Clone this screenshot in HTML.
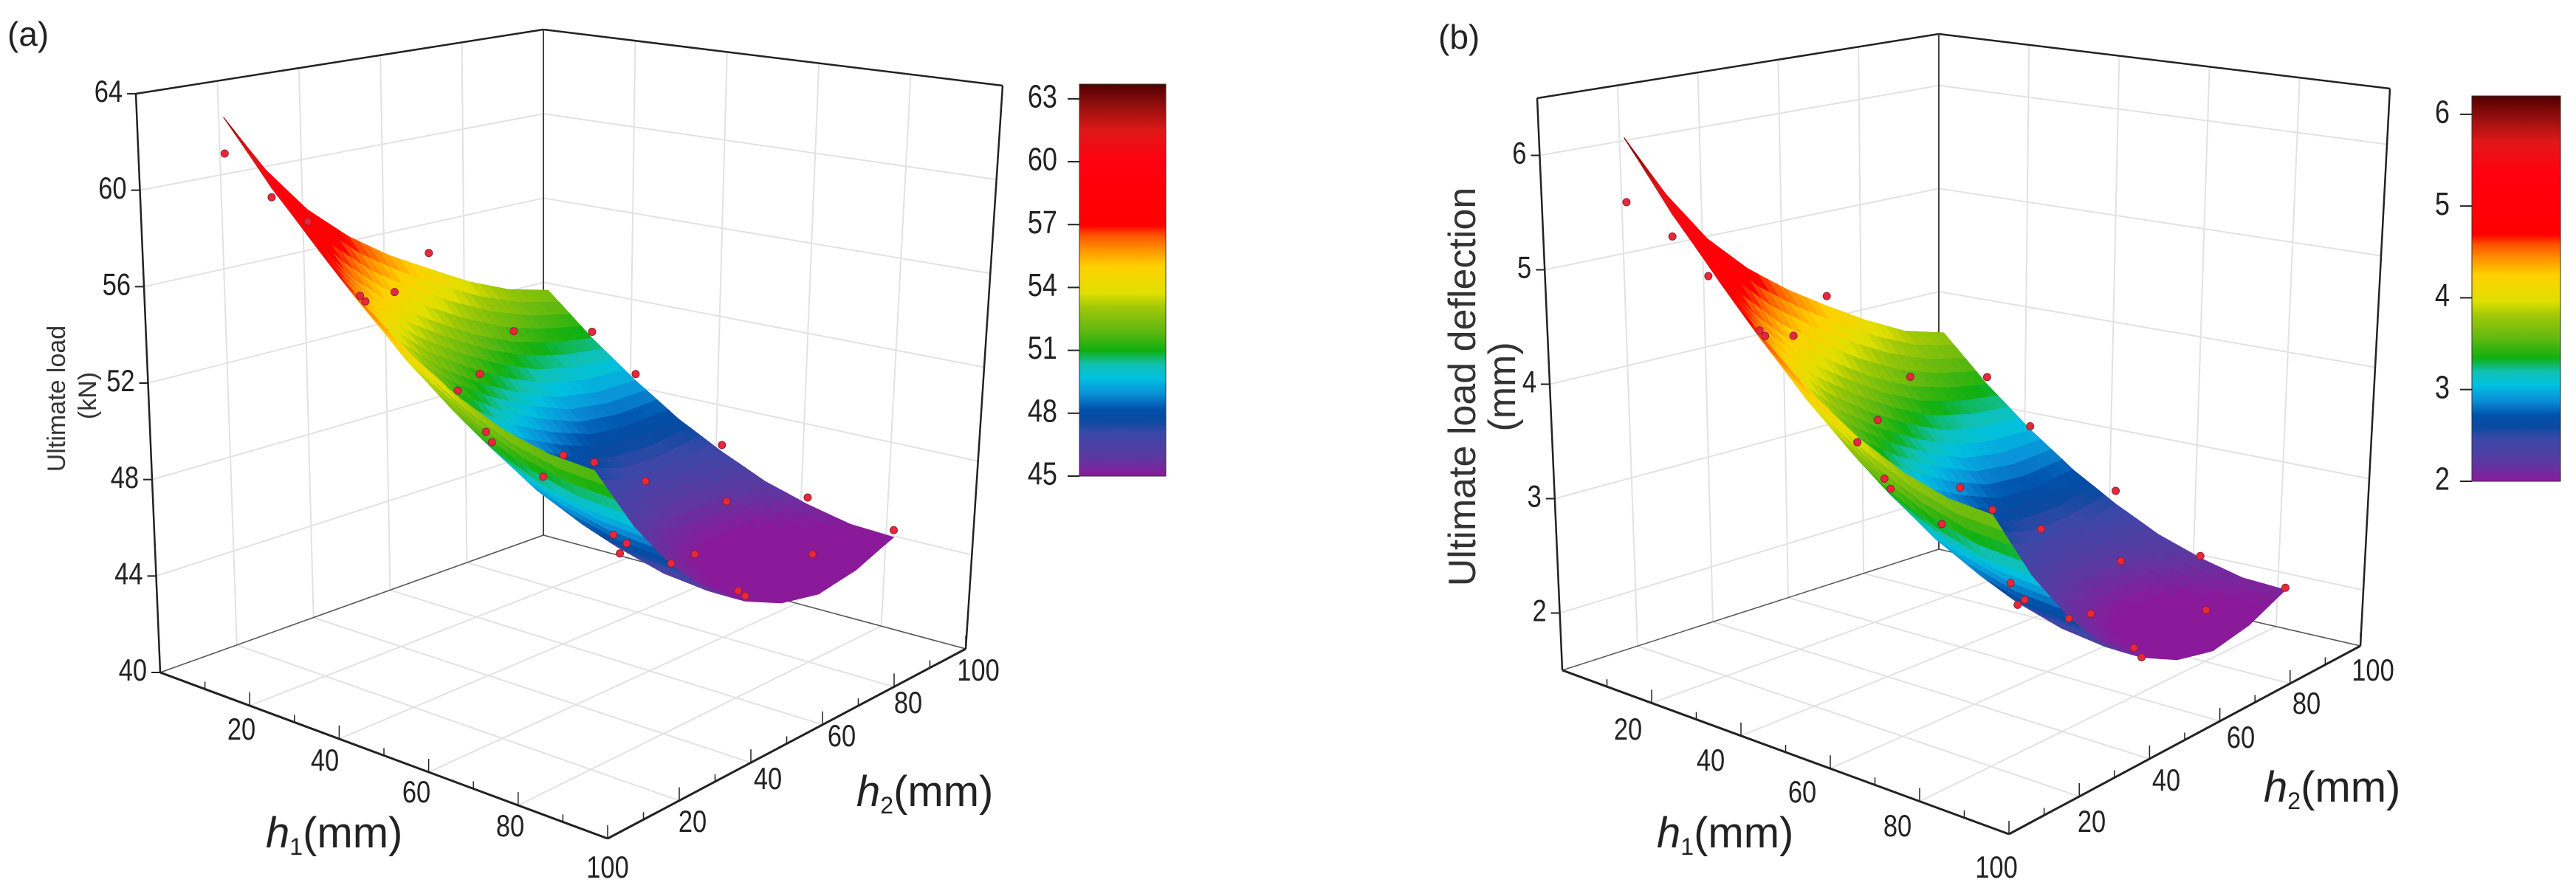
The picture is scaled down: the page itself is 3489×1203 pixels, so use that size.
<!DOCTYPE html>
<html><head><meta charset="utf-8"><style>
html,body{margin:0;padding:0;background:#fff;}
svg{display:block;}
text{font-family:"Liberation Sans Narrow","Liberation Sans",sans-serif;fill:#222;}
</style></head>
<body>
<svg id="fig" width="3489" height="1203" viewBox="0 0 3489 1203" xmlns="http://www.w3.org/2000/svg">
<defs id="defs"></defs>
</svg>
<script>
// ---- data ----
const h1Grid = [10,20,30,40,50,60,70,80,90];
const h2Grid = [10,20,30,40,50,60,70,80,90];
// rows: h2, columns: h1
const zLoad = [
 [63.0,60.4,58.2,56.3,54.75,53.55,52.7,52.2,52.0],
 [60.5,57.9,55.7,53.8,52.25,51.05,50.2,49.7,49.5],
 [58.5,55.9,53.7,51.8,50.25,49.05,48.2,47.7,47.5],
 [57.0,54.4,52.2,50.3,48.75,47.55,46.7,46.2,46.0],
 [55.8,53.3,51.1,49.2,47.7,46.5,45.7,45.2,45.0],
 [54.8,52.3,50.2,48.4,46.9,45.8,45.0,44.5,44.3],
 [53.8,51.5,49.5,47.8,46.45,45.4,44.6,44.2,44.0],
 [53.0,51.0,49.2,47.7,46.5,45.5,44.8,44.4,44.3],
 [52.5,50.7,49.2,47.9,46.9,46.06,45.5,45.1,45.0]
];
const zDefl = [
 [6.15,5.56,5.06,4.63,4.28,4.01,3.82,3.70,3.66],
 [5.59,5.00,4.50,4.07,3.71,3.44,3.25,3.13,3.09],
 [5.13,4.54,4.04,3.61,3.26,2.99,2.79,2.68,2.64],
 [4.79,4.20,3.70,3.27,2.92,2.65,2.45,2.34,2.29],
 [4.52,3.95,3.45,3.02,2.68,2.41,2.23,2.11,2.07],
 [4.29,3.72,3.25,2.84,2.50,2.25,2.07,1.95,1.91],
 [4.07,3.54,3.09,2.70,2.40,2.16,1.98,1.89,1.84],
 [3.88,3.43,3.02,2.68,2.41,2.18,2.02,1.93,1.91],
 [3.77,3.36,3.02,2.73,2.50,2.31,2.18,2.09,2.07]
];
const ptH1 = [10,10,20,20,10,20,30,30,40,40,30,50,50,60,60,50,70,70,80,80,90,90,90,70,60,80,40,20,90,70];
const ptH2 = [10,30,10,40,60,70,20,50,10,60,90,30,70,10,50,90,20,60,30,80,10,50,90,90,80,60,40,90,30,40];
const ptLoad = [61.5,58,60,55,55.5,52,56,51.5,56.5,48,49.5,50.5,46.8,53.8,46.2,47.2,50.5,45.3,47.9,44.5,52.3,45.2,45.3,45.8,45.8,44.3,50,51,47.6,46.5];
const ptDefl = [5.59,4.80,5.36,4.27,4.38,3.63,4.56,3.52,4.67,2.91,3.05,3.31,2.52,3.97,2.39,2.62,3.31,2.10,2.69,1.95,3.70,2.07,2.09,2.20,2.20,1.91,3.20,3.43,2.64,2.43];
const hTicks = [20,40,60,80,100];
const loadZTicks = [40,44,48,52,56,60,64];
const deflZTicks = [2,3,4,5,6];
const loadBarTicks = [45,48,51,54,57,60,63];
const deflBarTicks = [2,3,4,5,6];

const NS = "http://www.w3.org/2000/svg";
const svg = document.getElementById('fig');
const defs = document.getElementById('defs');
const cmap = [[0,'#8a1a9a'],[.05,'#5a3aa0'],[.11,'#3a48a8'],[.14,'#0a4aa0'],[.17,'#0050a8'],[.21,'#0a90d8'],[.25,'#00c0e0'],[.285,'#10c0b0'],[.32,'#10b010'],[.37,'#60b810'],[.43,'#a0c808'],[.467,'#e0e000'],[.535,'#ffd000'],[.58,'#ff9000'],[.615,'#ff5000'],[.64,'#ff0000'],[.8,'#ff0010'],[.88,'#e01818'],[.935,'#a01010'],[1,'#500000']];
function hex(c){return [parseInt(c.substr(1,2),16),parseInt(c.substr(3,2),16),parseInt(c.substr(5,2),16)];}
function colorAt(f){
  f=Math.max(0,Math.min(1,f));
  for(let i=1;i<cmap.length;i++){
    if(f<=cmap[i][0]){const a=cmap[i-1],b=cmap[i];const t=(f-a[0])/(b[0]-a[0]);const ca=hex(a[1]),cb=hex(b[1]);
      return 'rgb('+ca.map((v,k)=>Math.round(v+(cb[k]-v)*t)).join(',')+')';}
  }
  return cmap[cmap.length-1][1];
}
function mk(tag,attrs,parent){const e=document.createElementNS(NS,tag);for(const k in attrs)e.setAttribute(k,attrs[k]);(parent||svg).appendChild(e);return e;}
function txt(x,y,s,size,anchor,parent){
  const t=mk('text',{transform:'translate('+x+','+y+') scale(0.82,1)','font-size':size,'text-anchor':anchor||'middle','dominant-baseline':'middle'},parent);
  t.textContent=s;return t;
}

function drawPanel(c){
  const g=mk('g',{});
  
  
  const Ft=[c.Lt[0]+c.Rt[0]-c.Bt[0], c.Lt[1]+c.Rt[1]-c.Bt[1]];
  function P(h1,h2,z){
    const u=h1/100,v=h2/100;
    const wL=(1-u)*(1-v),wF=u*(1-v),wR=u*v,wB=(1-u)*v;
    const fx=c.L[0]*wL+c.F[0]*wF+c.R[0]*wR+c.B[0]*wB, fy=c.L[1]*wL+c.F[1]*wF+c.R[1]*wR+c.B[1]*wB;
    const tx=c.Lt[0]*wL+Ft[0]*wF+c.Rt[0]*wR+c.Bt[0]*wB, ty=c.Lt[1]*wL+Ft[1]*wF+c.Rt[1]*wR+c.Bt[1]*wB;
    const w=(z-c.zmin)/(c.zmax-c.zmin);
    return [fx+w*(tx-fx), fy+w*(ty-fy)];
  }
  const line=(a,b,st,sw,name)=>{const l=mk('line',{x1:a[0],y1:a[1],x2:b[0],y2:b[1],stroke:st,'stroke-width':sw},g);
    
    return l;};
  const gc='#e2e2e2';
  c.zTicks.forEach(z=>{line(P(0,0,z),P(0,100,z),gc,2,'wall-gridline');line(P(0,100,z),P(100,100,z),gc,2,'wall-gridline');});
  hTicks.slice(0,4).forEach(h=>{
    line(P(0,h,c.zmin),P(0,h,c.zmax),gc,2,'wall-gridline');
    line(P(h,100,c.zmin),P(h,100,c.zmax),gc,2,'wall-gridline');
    line(P(h,0,c.zmin),P(h,100,c.zmin),gc,2,'floor-gridline');
    line(P(0,h,c.zmin),P(100,h,c.zmin),gc,2,'floor-gridline');
  });
  line(P(0,0,c.zmin),P(0,100,c.zmin),'#555',1.5,'floor-back-edge');
  line(P(0,100,c.zmin),P(100,100,c.zmin),'#555',1.5,'floor-back-edge');
  line(P(0,0,c.zmax),P(0,100,c.zmax),'#222',2.5,'box-top-edge');
  line(P(0,100,c.zmax),P(100,100,c.zmax),'#222',2.5,'box-top-edge');
  line(P(0,100,c.zmin),P(0,100,c.zmax),'#444',2,'box-back-edge');
  line(P(100,100,c.zmin),P(100,100,c.zmax),'#222',2.5,'box-right-edge');
  line(P(0,0,c.zmin),P(0,0,c.zmax),'#222',2.5,'z-axis-line');
  line(P(0,0,c.zmin),P(100,0,c.zmin),'#222',3,'h1-axis-line');
  line(P(100,0,c.zmin),P(100,100,c.zmin),'#222',3,'h2-axis-line');
  // surface
  const S=4, quads=[];
  const n1=h1Grid.length,n2=h2Grid.length;
  function zAt(i,j){
    const i0=Math.min(Math.floor(i),n1-2),j0=Math.min(Math.floor(j),n2-2),a=i-i0,b=j-j0;
    return c.Z[j0][i0]*(1-a)*(1-b)+c.Z[j0][i0+1]*a*(1-b)+c.Z[j0+1][i0]*(1-a)*b+c.Z[j0+1][i0+1]*a*b;
  }
  function hAt(arr,i){const i0=Math.min(Math.floor(i),arr.length-2);return arr[i0]+(arr[i0+1]-arr[i0])*(i-i0);}
  for(let a=0;a<(n1-1)*S;a++)for(let b=0;b<(n2-1)*S;b++){
    const i=a/S,j=b/S,di=1/S;
    const cs=[[i,j],[i+di,j],[i+di,j+di],[i,j+di]];
    const pts=cs.map(q=>P(hAt(h1Grid,q[0]),hAt(h2Grid,q[1]),zAt(q[0],q[1])));
    const zc=zAt(i+di/2,j+di/2);
    const depth=(100-hAt(h1Grid,i+di/2))+hAt(h2Grid,j+di/2);
    quads.push({pts,zc,depth});
  }
  quads.sort((p,q)=>q.depth-p.depth);
  const sg=mk('g',{},g);
  
  
  quads.forEach(q=>{
    const col=colorAt((q.zc-c.cmin)/(c.cmax-c.cmin));
    const p=mk('polygon',{points:q.pts.map(v=>v[0].toFixed(1)+','+v[1].toFixed(1)).join(' '),fill:col,stroke:col,'stroke-width':1.2},sg);
    
    
  });
  c.P.forEach((z,k)=>{
    const p=P(ptH1[k],ptH2[k],z);
    const d=mk('circle',{cx:p[0],cy:p[1],r:5,fill:'#e8283a',stroke:'#902030','stroke-width':1},g);
    
    
  });
  c.zTicks.forEach(z=>{const p=P(0,0,z);line(p,[p[0]-12,p[1]],'#222',2,'z-tick');
    const t=txt(p[0]-18,p[1],String(z),c.tickSize,'end',g);
    
    });
  for(let h=10;h<=100;h+=10){
    const p1=P(h,0,c.zmin),p2=P(100,h,c.zmin),len=h%20===0?18:10;
    line(p1,[p1[0],p1[1]-len],'#222',1.5,'h1-tick');
    line(p2,[p2[0],p2[1]-len],'#222',1.5,'h2-tick');
  }
  hTicks.forEach((h,k)=>{
    const t1=txt(c.h1Lab[k][0],c.h1Lab[k][1],String(h),c.tickSize,'middle',g);
    
    
    const t2=txt(c.h2Lab[k][0],c.h2Lab[k][1],String(h),c.tickSize,'middle',g);
    
    
  });
  const gid='grad'+c.name;
  const lg=mk('linearGradient',{id:gid,x1:0,y1:1,x2:0,y2:0},defs);
  cmap.forEach(s=>mk('stop',{offset:s[0],'stop-color':s[1]},lg));
  const cb=mk('rect',{x:c.bar[0],y:c.bar[1],width:c.bar[2],height:c.bar[3],fill:'url(#'+gid+')',stroke:'#333','stroke-width':1},g);
  
  
  c.barTicks.forEach(v=>{
    const y=c.bar[1]+c.bar[3]*(1-(v-c.cmin)/(c.cmax-c.cmin));
    line([c.bar[0]-16,y],[c.bar[0],y],'#222',2,'colorbar-tick');
    const t=txt(c.bar[0]-30,y,String(v),c.barSize,'end',g);
    
    
  });
  return g;
}

drawPanel({name:'panel-a',L:[217,911],F:[823,1136],R:[1308,879],B:[736,725],Lt:[184,127],Bt:[736,40],Rt:[1358,116],
  zmin:40,zmax:64,Z:zLoad,P:ptLoad,zTicks:loadZTicks,cmin:45,cmax:63.7,barTicks:loadBarTicks,
  bar:[1462,114,117,531],tickSize:42,barSize:44,
  h1Lab:[[327,991],[440,1033],[564,1076],[691,1122],[823,1178]],
  h2Lab:[[938,1116],[1040,1058],[1140,1000],[1230,955],[1325,911]]});
drawPanel({name:'panel-b',L:[2116,908],F:[2721,1130],R:[3197,875],B:[2626,744],Lt:[2082,133],Bt:[2626,46],Rt:[3237,120],
  zmin:1.5,zmax:6.5,Z:zDefl,P:ptDefl,zTicks:deflZTicks,cmin:2,cmax:6.2,barTicks:deflBarTicks,
  bar:[3348,130,120,522],tickSize:42,barSize:44,
  h1Lab:[[2205,991],[2317,1033],[2441,1076],[2570,1122],[2704,1178]],
  h2Lab:[[2833,1116],[2934,1060],[3035,1002],[3124,956],[3214,911]]});
</script>
<svg style="position:absolute;left:0;top:0" width="3489" height="1203">
  <text x="10" y="62" font-size="46" style="font-family:'Liberation Sans',sans-serif;fill:#222">(a)</text>
  <text x="1948" y="66" font-size="46" style="font-family:'Liberation Sans',sans-serif;fill:#222">(b)</text>
  <text transform="translate(88,540) rotate(-90)" text-anchor="middle" font-size="34" style="font-family:'Liberation Sans',sans-serif;fill:#333">Ultimate load</text>
  <text transform="translate(130,536) rotate(-90)" text-anchor="middle" font-size="34" style="font-family:'Liberation Sans',sans-serif;fill:#333">(kN)</text>
  <text transform="translate(1998,524) rotate(-90)" text-anchor="middle" font-size="52" style="font-family:'Liberation Sans',sans-serif;fill:#333">Ultimate load deflection</text>
  <text transform="translate(2052,524) rotate(-90)" text-anchor="middle" font-size="52" style="font-family:'Liberation Sans',sans-serif;fill:#333">(mm)</text>
  <g style="font-family:'Liberation Sans Narrow','Liberation Sans',sans-serif;fill:#222" font-size="58">
    <text x="360" y="1148"><tspan font-style="italic">h</tspan><tspan font-size="32" dy="10">1</tspan><tspan dy="-10">(mm)</tspan></text>
    <text x="1160" y="1092"><tspan font-style="italic">h</tspan><tspan font-size="32" dy="10">2</tspan><tspan dy="-10">(mm)</tspan></text>
    <text x="2244" y="1148"><tspan font-style="italic">h</tspan><tspan font-size="32" dy="10">1</tspan><tspan dy="-10">(mm)</tspan></text>
    <text x="3066" y="1086"><tspan font-style="italic">h</tspan><tspan font-size="32" dy="10">2</tspan><tspan dy="-10">(mm)</tspan></text>
  </g>
</svg>
</body></html>
